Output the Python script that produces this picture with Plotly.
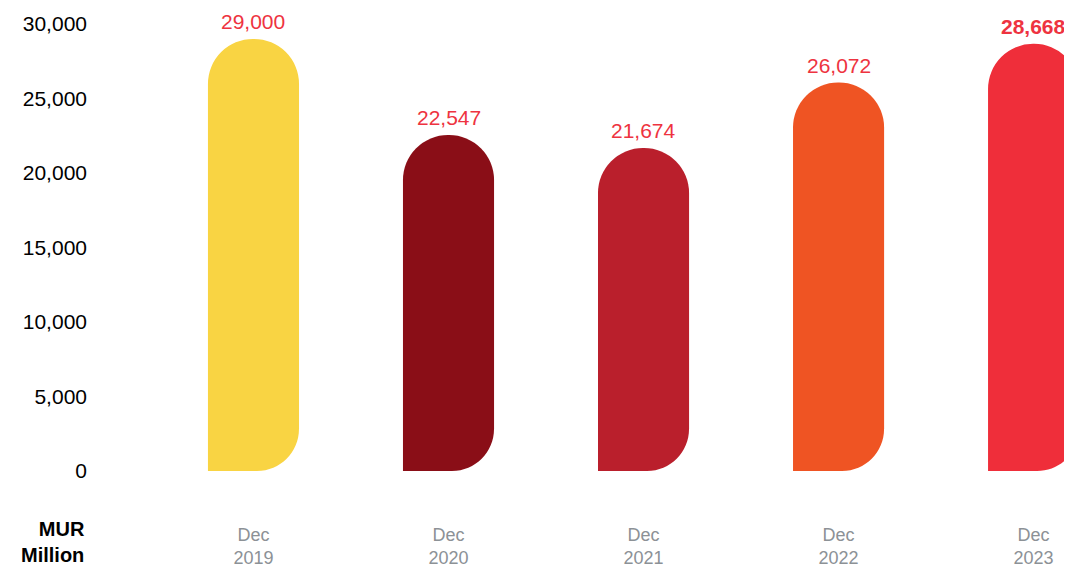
import plotly.graph_objects as go

# ── Data ──────────────────────────────────────────────────────────────────────
categories = ["Dec 2019", "Dec 2020", "Dec 2021", "Dec 2022", "Dec 2023"]
values = [29000, 22547, 21674, 26072, 28668]
value_labels = ["29,000", "22,547", "21,674", "26,072", "28,668"]
bar_colors = ["#F9D443", "#8A0E17", "#BA1F2C", "#EF5423", "#EF2E3A"]
y_ticks = [0, 5000, 10000, 15000, 20000, 25000, 30000]

_LABEL_RED = "#EE3340"
_GREY = "#8C9196"
_FONT = "Liberation Sans, Arial, sans-serif"

x_idx = list(range(len(categories)))
bar_width = 0.467          # in category units (~91 px)
half_px = 45.5             # half bar width in pixels
corner_r = 42              # bottom-right corner radius, pixels

fig = go.Figure()
fig.add_trace(go.Bar(
    x=x_idx, y=values,
    width=bar_width,
    marker=dict(color=bar_colors, cornerradius="50%", line=dict(width=0)),
    hoverinfo="skip",
))

# value labels above each bar (last one bold)
for i, (v, lab) in enumerate(zip(values, value_labels)):
    text = f"<b>{lab}</b>" if i == len(values) - 1 else lab
    fig.add_annotation(
        x=i, y=v, text=text, showarrow=False,
        xanchor="center", yanchor="bottom", yshift=4,
        font=dict(family=_FONT, size=21, color=_LABEL_RED),
    )

# rounded bottom-right corner: white cut-out anchored at each bar base
k = 0.5523
cx = half_px - corner_r
cut = (
    f"M {cx},-2 L {half_px + 2},-2 L {half_px + 2},{corner_r} "
    f"L {half_px},{corner_r} "
    f"C {half_px},{corner_r - k * corner_r} {cx + k * corner_r},0 {cx},0 Z"
)
for i in x_idx:
    fig.add_shape(
        type="path", path=cut,
        xref="x", yref="y",
        xsizemode="pixel", ysizemode="pixel",
        xanchor=i, yanchor=0,
        fillcolor="white", line=dict(width=0), layer="above",
    )

fig.add_annotation(
    xref="paper", yref="paper", x=-0.01327, y=-0.159,
    text="<b>MUR<br>Million</b>", showarrow=False,
    xanchor="right", yanchor="middle", align="right",
    font=dict(family=_FONT, size=20, color="black"),
)

# page body has an 8px margin; the last bar runs off the right edge
fig.update_layout(
    width=1072, height=561,
    plot_bgcolor="white", paper_bgcolor="white",
    margin=dict(l=92, r=0, t=16, b=98),
    showlegend=False,
    font=dict(family=_FONT, size=20, color="black"),
    xaxis=dict(
        range=[-0.787, 4.238],
        tickvals=x_idx,
        ticktext=[c.replace(" ", "<br>") for c in categories],
        tickfont=dict(family=_FONT, size=18, color=_GREY),
        showgrid=False, zeroline=False, showline=False,
        ticks="", ticklabelstandoff=51,
    ),
    yaxis=dict(
        range=[0, 30000],
        tickvals=y_ticks,
        tickformat=",",
        tickfont=dict(family=_FONT, size=21, color="black"),
        showgrid=False, zeroline=False, showline=False,
        ticks="", ticklabelstandoff=12,
    ),
)

fig.write_html("out.html")
